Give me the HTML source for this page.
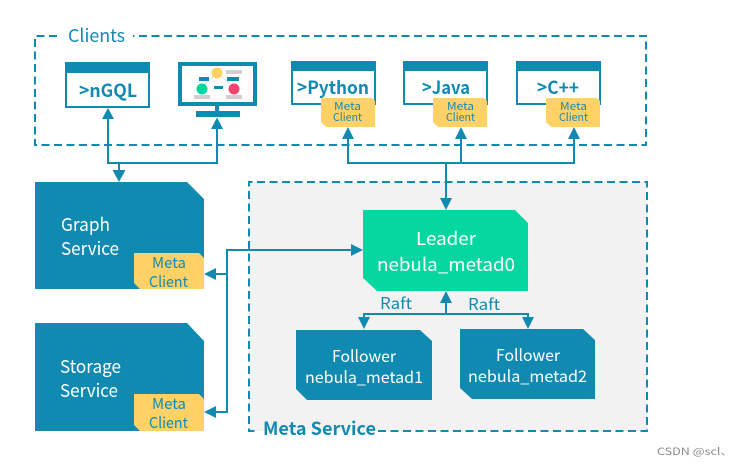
<!DOCTYPE html>
<html><head><meta charset="utf-8"><style>
html,body{margin:0;padding:0;background:#fff;width:752px;height:466px;overflow:hidden}
svg{display:block}
text{font-family:"Noto Sans CJK SC","Liberation Sans",sans-serif}
.w{fill:#fff}.b{fill:#118ab2}
</style></head><body>
<svg width="752" height="466" viewBox="0 0 752 466" xmlns="http://www.w3.org/2000/svg">
<rect width="752" height="466" fill="#fff"/>
<rect x="249" y="182" width="398" height="249" fill="#f2f2f2"/>
<g fill="none" stroke="#118ab2" stroke-width="2" stroke-dasharray="8 4.500">
<path d="M57 36H35V145H646V36H133"/>
<path d="M378 431H647V182H249V431H259"/>
</g>
<!-- connectors -->
<g fill="none" stroke="#118ab2" stroke-width="2">
<path d="M108 118V163H217V128M119 163V172"/>
<path d="M348 138V163H574V138M461 138V163M446 163V199"/>
<path d="M353 250H227V412H215M227 274H215"/>
<path d="M446 302V314M364 319V314H528V319"/>
</g>
<g class="b">
<path d="M108 108l6 11h-12zM217 117.500l6 11.500h-12zM119 182l-6.500-12h13z"/>
<path d="M348 127l6 12h-12zM461 127l6 12h-12zM574 127l6 12h-12zM446 210l-6-12h12z"/>
<path d="M363 250l-12-6v12zM204 274l12-6v12zM204 412l12-6v12z"/>
<path d="M446 291l6 12h-12zM364 329l-6-12h12zM528 329l-6-12h12z"/>
</g>
<!-- client boxes -->
<g fill="#fff" stroke="#118ab2" stroke-width="2">
<rect x="66" y="63" width="83" height="44"/>
<rect x="292" y="62" width="83" height="42"/>
<rect x="404" y="62" width="83" height="42"/>
<rect x="517" y="62" width="83" height="42"/>
</g>
<g class="b">
<rect x="65" y="62" width="85" height="11"/>
<rect x="291" y="61" width="85" height="10"/>
<rect x="403" y="61" width="85" height="10"/>
<rect x="516" y="61" width="85" height="10"/>
</g>
<!-- monitor -->
<rect x="180" y="64" width="75" height="40" fill="#fff" stroke="#118ab2" stroke-width="4"/>
<rect x="215" y="106" width="4" height="6" fill="#118ab2"/>
<rect x="196" y="111" width="44" height="6" fill="#118ab2"/>
<path d="M205 84L217 73L230 84" fill="none" stroke="#cfe6ee" stroke-width="1"/>
<circle cx="217" cy="73" r="5.500" fill="#ffd166"/>
<circle cx="202" cy="89" r="5.500" fill="#06d6a0"/>
<circle cx="234" cy="89" r="5.500" fill="#ef476f"/>
<g class="b"><rect x="199" y="77" width="10" height="4"/><rect x="227" y="77" width="12" height="4"/><rect x="214" y="86" width="9" height="3"/></g>
<g fill="#d0d0d0"><rect x="226" y="70" width="16" height="4"/><rect x="194" y="95" width="16" height="4"/><rect x="226" y="95" width="16" height="4"/></g>
<!-- services -->
<g class="b">
<path d="M35 182H187L204 199V289H35Z"/>
<path d="M35 323H187L204 341V431H35Z"/>
<path d="M296 330H420L432 341V400H307L296 389Z"/>
<path d="M460 329H583L595 340V399H472L460 388Z"/>
</g>
<path d="M363 210H515L528 223V291H377L363 278Z" fill="#06d6a0"/>
<!-- tags -->
<g fill="#ffd166">
<path d="M134 253H199L204 258V289H140L134 283Z"/>
<path d="M134 394H199L204 399V431H140L134 425Z"/>
<path d="M321 98H372L375 101V127H326L321 122Z"/>
<path d="M433 98H484L487 101V127H438L433 122Z"/>
<path d="M546 98H597L600 101V127H551L546 122Z"/>
</g>
<!-- text -->
<g class="b">
<text x="68" y="42" font-size="18" textLength="57" lengthAdjust="spacingAndGlyphs">Clients</text>
<g font-size="18" font-weight="bold">
<text x="79" y="97" textLength="58" lengthAdjust="spacingAndGlyphs">&gt;nGQL</text>
<text x="297" y="94" textLength="72" lengthAdjust="spacingAndGlyphs">&gt;Python</text>
<text x="422" y="94" textLength="48" lengthAdjust="spacingAndGlyphs">&gt;Java</text>
<text x="537" y="94" textLength="42" lengthAdjust="spacingAndGlyphs">&gt;C++</text>
<text x="263" y="435" textLength="113" lengthAdjust="spacingAndGlyphs">Meta Service</text>
</g>
<g font-size="11">
<text x="334" y="110" textLength="27" lengthAdjust="spacingAndGlyphs">Meta</text>
<text x="333" y="121" textLength="29" lengthAdjust="spacingAndGlyphs">Client</text>
<text x="447" y="110" textLength="27" lengthAdjust="spacingAndGlyphs">Meta</text>
<text x="446" y="121" textLength="29" lengthAdjust="spacingAndGlyphs">Client</text>
<text x="560" y="110" textLength="27" lengthAdjust="spacingAndGlyphs">Meta</text>
<text x="559" y="121" textLength="29" lengthAdjust="spacingAndGlyphs">Client</text>
</g>
<g font-size="15">
<text x="152" y="268" textLength="34" lengthAdjust="spacingAndGlyphs">Meta</text>
<text x="149" y="287" textLength="39" lengthAdjust="spacingAndGlyphs">Client</text>
<text x="152" y="409" textLength="34" lengthAdjust="spacingAndGlyphs">Meta</text>
<text x="149" y="428" textLength="39" lengthAdjust="spacingAndGlyphs">Client</text>
</g>
<g font-size="16">
<text x="380" y="309" textLength="32" lengthAdjust="spacingAndGlyphs">Raft</text>
<text x="468" y="310" textLength="32" lengthAdjust="spacingAndGlyphs">Raft</text>
</g>
</g>
<g class="w">
<g font-size="18">
<text x="61" y="231" textLength="49" lengthAdjust="spacingAndGlyphs">Graph</text>
<text x="61" y="255" textLength="58" lengthAdjust="spacingAndGlyphs">Service</text>
<text x="60" y="373" textLength="61" lengthAdjust="spacingAndGlyphs">Storage</text>
<text x="60" y="397" textLength="58" lengthAdjust="spacingAndGlyphs">Service</text>
<text x="416" y="245" textLength="60" lengthAdjust="spacingAndGlyphs">Leader</text>
<text x="377" y="271" textLength="138" lengthAdjust="spacingAndGlyphs">nebula_metad0</text>
</g>
<g font-size="16">
<text x="332" y="362" textLength="64" lengthAdjust="spacingAndGlyphs">Follower</text>
<text x="305" y="383" textLength="118" lengthAdjust="spacingAndGlyphs">nebula_metad1</text>
<text x="496" y="361" textLength="64" lengthAdjust="spacingAndGlyphs">Follower</text>
<text x="468" y="382" textLength="119" lengthAdjust="spacingAndGlyphs">nebula_metad2</text>
</g>
</g>
<text x="657" y="455" font-size="10" fill="#8a8a8a" textLength="76" lengthAdjust="spacingAndGlyphs">CSDN @scl、</text>
</svg>
</body></html>
